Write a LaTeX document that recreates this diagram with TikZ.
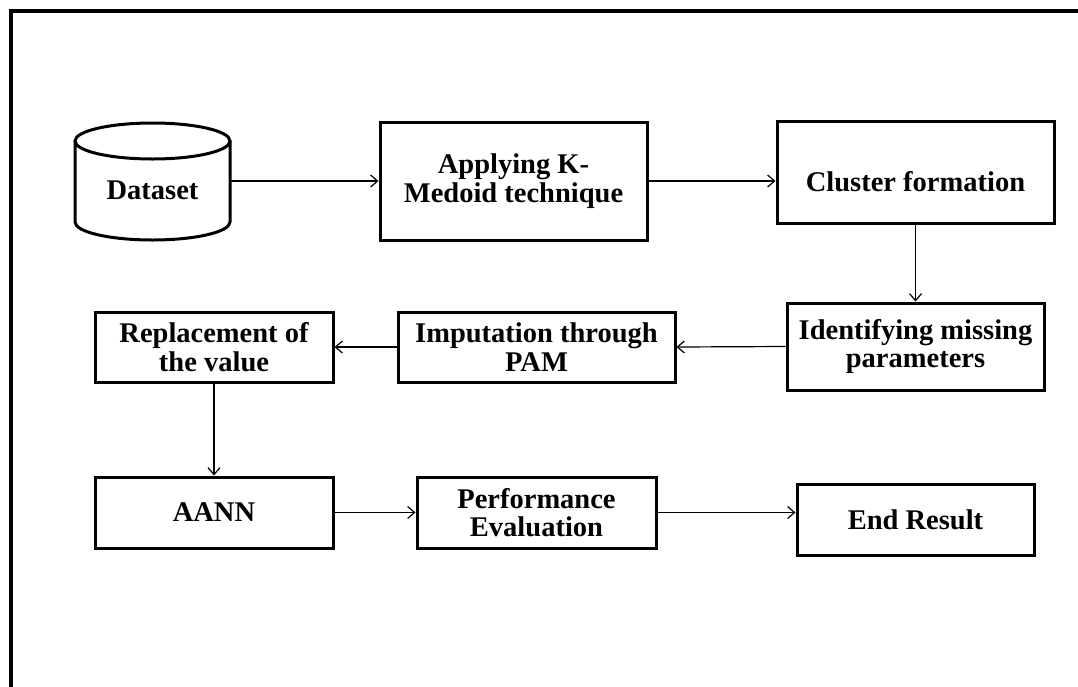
\documentclass[tikz,border=0pt]{standalone}
\usepackage{fontspec}
\setmainfont{Liberation Serif}
\usetikzlibrary{arrows.meta}
\begin{document}
\begin{tikzpicture}[x=1pt,y=-1pt,
  box/.style={draw,line width=3pt,inner sep=0pt,align=center,
    font=\bfseries\fontsize{28.5}{28.5}\selectfont},
  conn/.style={line width=1.2pt,-{Straight Barb[length=7pt,width=12pt,line width=1.2pt]}},
  frame/.style={line width=3.2pt}]
\clip (0,0) rectangle (1078,686);
\fill[white] (0,0) rectangle (1078,686);
% frame (only top and left edges visible)
\draw[frame] (11,700) -- (11,11) -- (1100,11);
% dataset cylinder
\node[inner sep=0pt,minimum width=155pt,minimum height=117pt,
  font=\bfseries\fontsize{28.5}{28.5}\selectfont] (ds) at (152.5,190) {Dataset};
\draw[line width=3pt] (75,141) -- (75,222)
  arc[start angle=180,end angle=0,x radius=77.5,y radius=18] -- (230,141);
\draw[line width=3pt] (152.5,141) ellipse [x radius=77.5,y radius=18];
% boxes
\node[box,minimum width=267pt,minimum height=118pt] (km) at (513.5,181) {Applying K-\\Medoid technique};
\node[box,minimum width=277pt,minimum height=102pt] (cf) at (915.5,172) {};
\node[font=\bfseries\fontsize{28.5}{28.5}\selectfont,inner sep=0pt] (cft) at (915.5,182) {Cluster formation};
\node[box,minimum width=257pt,minimum height=87pt] (idm) at (915.5,346.5) {Identifying missing\\parameters};
\node[box,minimum width=277pt,minimum height=70pt] (imp) at (536.5,347) {Imputation through\\PAM};
\node[box,minimum width=238pt,minimum height=70pt] (rep) at (214,347) {Replacement of\\the value};
\node[box,minimum width=238pt,minimum height=71pt] (aann) at (214,512.5) {AANN};
\node[box,minimum width=239pt,minimum height=71pt] (perf) at (536.5,512.5) {Performance\\Evaluation};
\node[box,minimum width=237pt,minimum height=71pt] (end) at (915.5,520) {End Result};
% connectors
\draw[conn] (ds.east |- km.west) -- (km.west);
\draw[conn] (km.east) -- (cf.west |- km.east);
\draw[conn] (cf.south) -- (idm.north);
\draw[conn] (idm.west) -- (imp.east);
\draw[conn] (imp.west) -- (rep.east);
\draw[conn] (rep.south) -- (aann.north);
\draw[conn] (aann.east) -- (perf.west);
\draw[conn] (perf.east) -- (end.west |- perf.east);
\end{tikzpicture}
\end{document}
